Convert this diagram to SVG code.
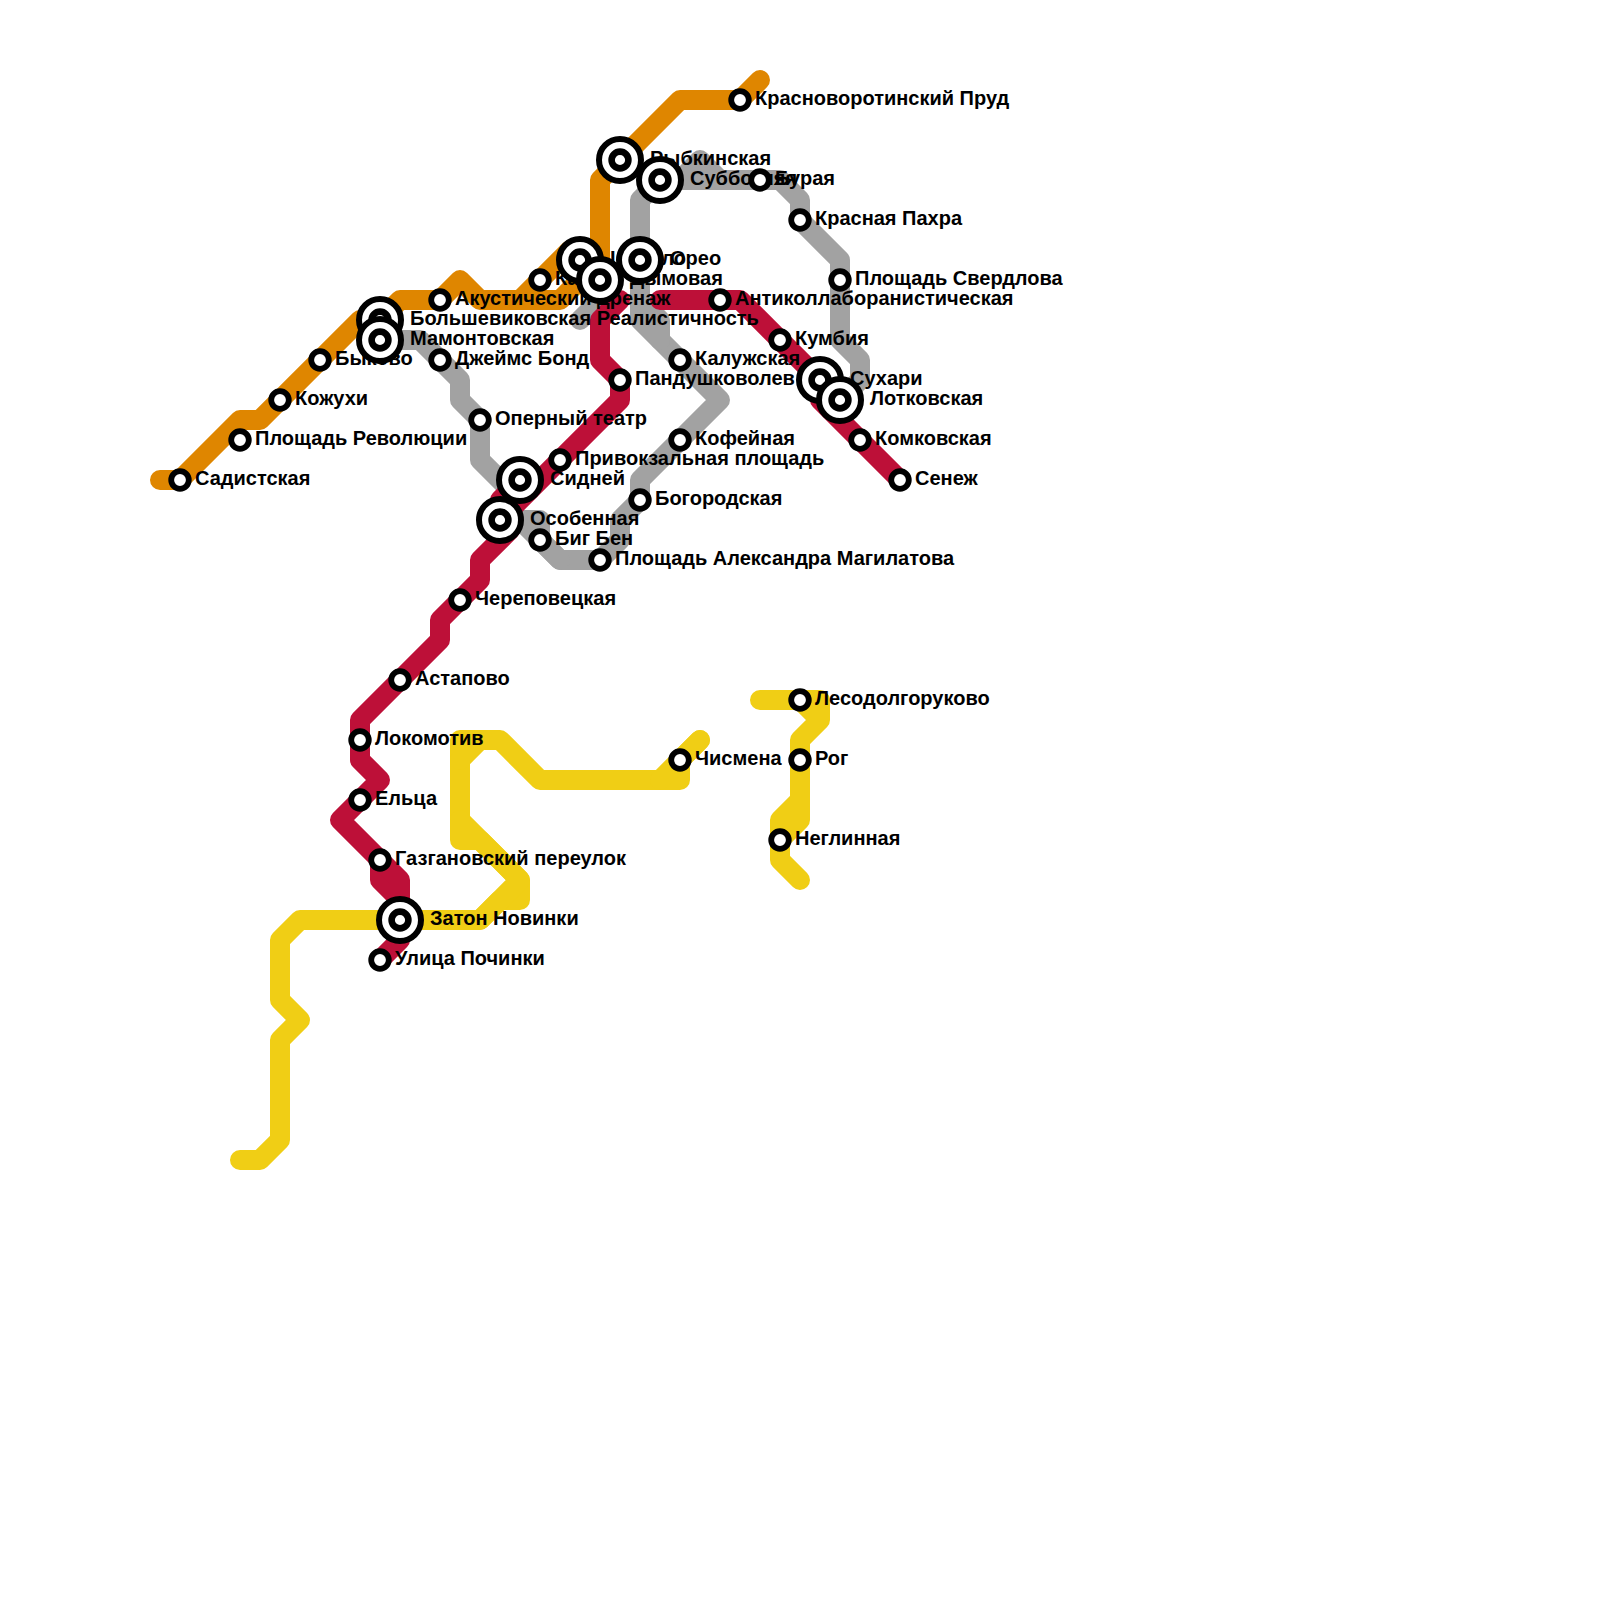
<svg xmlns="http://www.w3.org/2000/svg" width="1600" height="1600" viewBox="0 0 1600 1600">
<style>
.l{fill:none;stroke-width:20;stroke-linecap:round;stroke-linejoin:round}
.o{stroke:#df8600}.g{stroke:#a2a2a2}.r{stroke:#bd1038}.y{stroke:#f0ce15}
text{font-family:"Liberation Sans",Arial,sans-serif;font-size:20px;font-weight:700;fill:#000}
.s{fill:#fff;stroke:#000;stroke-width:5.8}
.b{fill:#fff;stroke:#000;stroke-width:6}
.c{fill:#fff;stroke:#000;stroke-width:6.6}
</style>
<defs>
<g id="st"><circle class="s" r="8.8"/></g>
<g id="ic"><circle class="b" r="21"/><circle class="c" r="8.4"/></g>
</defs>
<rect width="1600" height="1600" fill="#fff"/>
<g id="connectors">
<path class="l o" d="M160 480H180L240 420H260L360 320H380L400 300H440L460 280L480 300H560L600 260V180L620 160L680 100H740L760 80"/>
<path class="l o" d="M520 300L570 250"/>
<path class="l g" d="M380 340H420L460 380V400L480 420V460L505 485M500 520H540V540L560 560H600L620 540V520L640 500V480L720 400L680 360L640 320V200L660 180H780L800 200V220L840 260V340L860 360V380L840 400"/>
<path class="l g" d="M520 520L560 560M580 320L600 300M640 300L660 320V340M680 180L700 160L720 180"/>
<path class="l r" d="M660 300H740L820 380V400L900 480"/>
<path class="l r" d="M620 300L600 320V360L620 380V400L500 520M510 530L480 560V580L440 620V640L360 720V760L380 780L340 820L380 860V880L400 900V940L380 960"/>
<path class="l r" d="M380 860L400 880V900M500 500L520 480"/>
<path class="l y" d="M240 1160H260L280 1140V1040L300 1020L280 1000V940L300 920H480L500 900H520V880L460 820V740H500L540 780H680V760L700 740"/>
<path class="l y" d="M460 760L480 740M460 820V840H480L520 880M480 920L520 880M660 780L700 740"/>
<path class="l y" d="M760 700H820V720L800 740V820L780 840M800 700L820 720M800 800L780 820V860L800 880"/>
</g>
<g id="labels">
<text x="195" y="485">Садистская</text>
<text x="255" y="445">Площадь Революции</text>
<text x="295" y="405">Кожухи</text>
<text x="335" y="365">Быково</text>
<text x="410" y="325">Большевиковская Реалистичность</text>
<text x="410" y="345">Мамонтовская</text>
<text x="455" y="305">Акустический дренаж</text>
<text x="455" y="365">Джеймс Бонд</text>
<text x="495" y="425">Оперный театр</text>
<text x="555" y="285">Ка</text>
<text x="610" y="265">Цирило</text>
<text x="670" y="265">Орео</text>
<text x="630" y="285">Дымовая</text>
<text x="650" y="165">Рыбкинская</text>
<text x="690" y="185">Субботняя</text>
<text x="775" y="185">Бурая</text>
<text x="755" y="105">Красноворотинский Пруд</text>
<text x="815" y="225">Красная Пахра</text>
<text x="855" y="285">Площадь Свердлова</text>
<text x="735" y="305">Антиколлаборанистическая</text>
<text x="795" y="345">Кумбия</text>
<text x="695" y="365">Калужская</text>
<text x="635" y="385">Пандушковолев</text>
<text x="850" y="385">Сухари</text>
<text x="870" y="405">Лотковская</text>
<text x="875" y="445">Комковская</text>
<text x="915" y="485">Сенеж</text>
<text x="695" y="445">Кофейная</text>
<text x="575" y="465">Привокзальная площадь</text>
<text x="550" y="485">Сидней</text>
<text x="530" y="525">Особенная</text>
<text x="555" y="545">Биг Бен</text>
<text x="655" y="505">Богородская</text>
<text x="615" y="565">Площадь Александра Магилатова</text>
<text x="475" y="605">Череповецкая</text>
<text x="415" y="685">Астапово</text>
<text x="375" y="745">Локомотив</text>
<text x="375" y="805">Ельца</text>
<text x="395" y="865">Газгановский переулок</text>
<text x="430" y="925">Затон Новинки</text>
<text x="395" y="965">Улица Починки</text>
<text x="695" y="765">Чисмена</text>
<text x="815" y="705">Лесодолгоруково</text>
<text x="815" y="765">Рог</text>
<text x="795" y="845">Неглинная</text>
</g>
<g id="stations">
<use id="st-sadist" href="#st" x="180" y="480"/>
<use id="st-plrev" href="#st" x="240" y="440"/>
<use id="st-kozh" href="#st" x="280" y="400"/>
<use id="st-byk" href="#st" x="320" y="360"/>
<use id="st-bolsh" href="#ic" x="380" y="320"/>
<use id="st-mam" href="#ic" x="380" y="340"/>
<use id="st-akust" href="#st" x="440" y="300"/>
<use id="st-bond" href="#st" x="440" y="360"/>
<use id="st-oper" href="#st" x="480" y="420"/>
<use id="st-kand" href="#st" x="540" y="280"/>
<use id="st-zirk" href="#ic" x="580" y="260"/>
<use id="st-orio" href="#ic" x="640" y="260"/>
<use id="st-dym" href="#ic" x="600" y="280"/>
<use id="st-ryb" href="#ic" x="620" y="160"/>
<use id="st-subb" href="#ic" x="660" y="180"/>
<use id="st-bur" href="#st" x="760" y="180"/>
<use id="st-krv" href="#st" x="740" y="100"/>
<use id="st-krp" href="#st" x="800" y="220"/>
<use id="st-sverd" href="#st" x="840" y="280"/>
<use id="st-anti" href="#st" x="720" y="300"/>
<use id="st-kumb" href="#st" x="780" y="340"/>
<use id="st-kal" href="#st" x="680" y="360"/>
<use id="st-pand" href="#st" x="620" y="380"/>
<use id="st-such" href="#ic" x="820" y="380"/>
<use id="st-lotk" href="#ic" x="840" y="400"/>
<use id="st-komk" href="#st" x="860" y="440"/>
<use id="st-sen" href="#st" x="900" y="480"/>
<use id="st-kof" href="#st" x="680" y="440"/>
<use id="st-priv" href="#st" x="560" y="460"/>
<use id="st-sid" href="#ic" x="520" y="480"/>
<use id="st-osob" href="#ic" x="500" y="520"/>
<use id="st-big" href="#st" x="540" y="540"/>
<use id="st-bog" href="#st" x="640" y="500"/>
<use id="st-mag" href="#st" x="600" y="560"/>
<use id="st-cher" href="#st" x="460" y="600"/>
<use id="st-ast" href="#st" x="400" y="680"/>
<use id="st-lok" href="#st" x="360" y="740"/>
<use id="st-elc" href="#st" x="360" y="800"/>
<use id="st-gaz" href="#st" x="380" y="860"/>
<use id="st-zat" href="#ic" x="400" y="920"/>
<use id="st-poch" href="#st" x="380" y="960"/>
<use id="st-chis" href="#st" x="680" y="760"/>
<use id="st-les" href="#st" x="800" y="700"/>
<use id="st-rog" href="#st" x="800" y="760"/>
<use id="st-negl" href="#st" x="780" y="840"/>
</g>
</svg>
